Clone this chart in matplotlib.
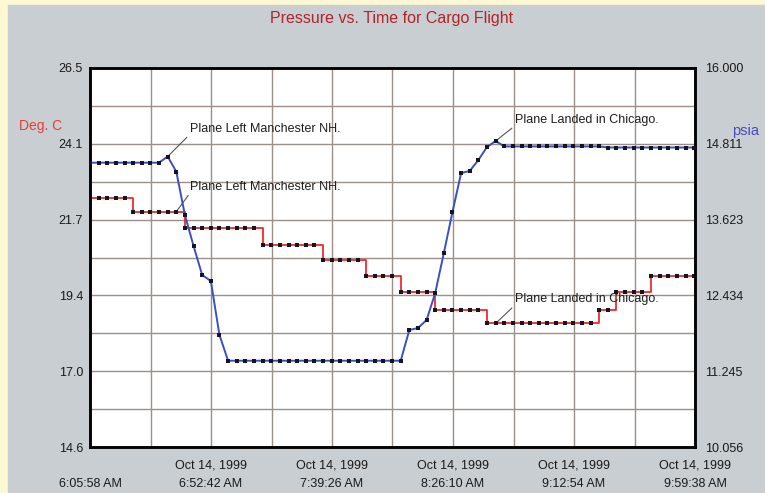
import matplotlib
matplotlib.use("Agg")
import matplotlib.pyplot as plt
import matplotlib.patches as mpatches
import numpy as np
from datetime import datetime, timedelta

plt.rcParams['font.family'] = ['Liberation Sans', 'DejaVu Sans']

# ---------------- data ----------------
title = "Pressure vs. Time for Cargo Flight"
start_time = datetime(1999, 10, 14, 6, 5, 58)
sample_interval_s = 200  # logger sampling interval

# temperature (Deg. C), left axis
temperature_c = [
    22.43, 22.43, 22.43, 22.43, 22.43,
    21.99, 21.99, 21.99, 21.99, 21.99, 21.99,
    21.47, 21.47, 21.47, 21.47, 21.47, 21.47, 21.47, 21.47, 21.47,
    20.94, 20.94, 20.94, 20.94, 20.94, 20.94, 20.94,
    20.47, 20.47, 20.47, 20.47, 20.47,
    19.98, 19.98, 19.98, 19.98,
    19.46, 19.46, 19.46, 19.46,
    18.90, 18.90, 18.90, 18.90, 18.90, 18.90,
    18.48, 18.48, 18.48, 18.48, 18.48, 18.48, 18.48, 18.48, 18.48, 18.48, 18.48, 18.48, 18.48,
    18.90, 18.90,
    19.46, 19.46, 19.46, 19.46,
    19.97, 19.97, 19.97, 19.97, 19.97, 19.97,
]

# pressure (psia), right axis
pressure_psia = [
    14.515, 14.515, 14.515, 14.515, 14.515, 14.515, 14.515, 14.515, 14.515,
    14.612, 14.374, 13.694, 13.208, 12.753, 12.659, 11.812,
    11.409, 11.409, 11.409, 11.409, 11.409, 11.409, 11.409, 11.409, 11.409, 11.409,
    11.409, 11.409, 11.409, 11.409, 11.409, 11.409, 11.409, 11.409, 11.409, 11.409, 11.409,
    11.891, 11.922, 12.048, 12.471, 13.099, 13.742, 14.353, 14.385, 14.557, 14.761, 14.855,
    14.770, 14.770, 14.770, 14.770, 14.770, 14.770, 14.770, 14.770, 14.770, 14.770, 14.770, 14.770,
    14.753, 14.753, 14.753, 14.753, 14.753, 14.753, 14.753, 14.753, 14.753, 14.753, 14.753,
]

left_ticks = [14.6, 16.98, 19.36, 21.74, 24.12, 26.5]
left_tick_labels = ["14.6", "17.0", "19.4", "21.7", "24.1", "26.5"]
right_ticks = [10.056, 11.2448, 12.4336, 13.6224, 14.8112, 16.0]
right_tick_labels = ["10.056", "11.245", "12.434", "13.623", "14.811", "16.000"]

x_tick_minutes = [0, 46.7333, 93.4667, 140.2, 186.9333, 233.6667]
x_tick_labels = ["\n6:05:58 AM",
                 "Oct 14, 1999\n6:52:42 AM",
                 "Oct 14, 1999\n7:39:26 AM",
                 "Oct 14, 1999\n8:26:10 AM",
                 "Oct 14, 1999\n9:12:54 AM",
                 "Oct 14, 1999\n9:59:38 AM"]

# sample times in minutes since start
t_min = np.arange(len(pressure_psia)) * sample_interval_s / 60.0

# ---------------- figure ----------------
W, H = 765, 493
fig = plt.figure(figsize=(W / 100, H / 100), dpi=100)
fig.patch.set_facecolor('#fdf7d4')
fig.patches.append(mpatches.Rectangle((8 / W, 0), 1, (H - 5) / H,
                                      transform=fig.transFigure,
                                      color='#c9ced2', zorder=-10))

left, right, top, bottom = 90, 695, 68, 447
ax = fig.add_axes([left / W, (H - bottom) / H, (right - left) / W, (bottom - top) / H])
ax.set_facecolor('white')
ax2 = ax.twinx()

xmax = x_tick_minutes[-1]
ax.set_xlim(0, xmax)
ax.set_ylim(left_ticks[0], left_ticks[-1])
ax2.set_ylim(right_ticks[0], right_ticks[-1])

# grid
grid_color = '#9c8f8a'
ax.set_xticks(x_tick_minutes)
ax.set_xticks(np.linspace(0, xmax, 11), minor=True)
ax.set_yticks(left_ticks)
ax.set_yticks(np.linspace(left_ticks[0], left_ticks[-1], 11), minor=True)
ax.grid(True, which='both', color=grid_color, linewidth=1.0)
ax.set_axisbelow(True)

ax.set_xticklabels(x_tick_labels, linespacing=1.75)
ax.set_yticklabels(left_tick_labels)
ax2.set_yticks(right_ticks)
ax2.set_yticklabels(right_tick_labels)

for a in (ax, ax2):
    a.tick_params(which='both', length=0, labelsize=9, colors='#1a1a1a')
    for s in a.spines.values():
        s.set_linewidth(1.8)
        s.set_color('black')
ax.tick_params(axis='x', pad=9)
ax.tick_params(axis='y', pad=5)
ax2.tick_params(axis='y', pad=7)

# series
marker_color = '#15151f'
ax.plot(t_min, temperature_c, drawstyle='steps-post', color='#f02a2a', lw=1.3, zorder=3)
ax.plot(t_min, temperature_c, ls='none', marker='s', ms=3.2, mfc=marker_color,
        mec=marker_color, mew=0, zorder=4)
ax2.plot(t_min, pressure_psia, color='#3b4fc4', lw=1.4, zorder=3)
ax2.plot(t_min, pressure_psia, ls='none', marker='s', ms=3.2, mfc=marker_color,
         mec=marker_color, mew=0, zorder=4)

# annotations
ann_kw = dict(textcoords='offset pixels', ha='left', va='center', fontsize=9,
              color='#1e1e1e',
              arrowprops=dict(arrowstyle='-', color='#555555', lw=0.8,
                              relpos=(0, 0), shrinkA=0, shrinkB=0))
ax2.annotate("Plane Left Manchester NH.", xy=(t_min[9], pressure_psia[9]),
             xytext=(22, 28), **ann_kw)
ax.annotate("Plane Left Manchester NH.", xy=(t_min[10], temperature_c[10]),
            xytext=(14, 25), **ann_kw)
ax2.annotate("Plane Landed in Chicago.", xy=(t_min[47], pressure_psia[47]),
             xytext=(19, 21), **ann_kw)
ax.annotate("Plane Landed in Chicago.", xy=(t_min[47], temperature_c[47]),
            xytext=(19, 24), **ann_kw)

# titles / axis names
fig.text(392 / W, 1 - 18 / H, title, ha='center', va='center',
         fontsize=11.5, color='#b0252a')
fig.text(41 / W, 1 - 126 / H, "Deg. C", ha='center', va='center',
         fontsize=10, color='#e83c3c')
fig.text(746 / W, 1 - 131 / H, "psia", ha='center', va='center',
         fontsize=10.5, color='#4a4ab8')

fig.savefig('out.png', dpi=100, facecolor=fig.get_facecolor())
